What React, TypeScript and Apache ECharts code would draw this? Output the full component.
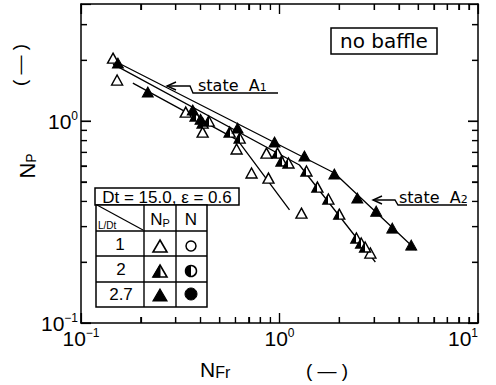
import React, { useEffect, useRef } from 'react';
import * as echarts from 'echarts';

// ---- axis setup ----
const X_MIN = 0.1;
const X_MAX = 10;
const Y_MIN = 0.1;
const Y_MAX = 3.8;
const xMajorTicks = [0.1, 1, 10];
const yMajorTicks = [0.1, 1];
const xMinorTicks = [0.2, 0.3, 0.4, 0.5, 0.6, 0.7, 0.8, 0.9, 2, 3, 4, 5, 6, 7, 8, 9];
const yMinorTicks = [0.2, 0.3, 0.4, 0.5, 0.6, 0.7, 0.8, 0.9, 2, 3];

// ---- data: [N_Fr, N_P] ----
// L/Dt = 1 (open triangles)
const openPoints: number[][] = [
  [0.145, 2.05], [0.152, 1.596], [0.337, 1.108], [0.41, 0.882], [0.608, 0.727],
  [0.723, 0.553], [0.86, 0.694], [0.88, 0.522], [1.29, 0.35], [2.87, 0.222],
];
// L/Dt = 2 (half-filled triangles)
const halfPoints: number[][] = [
  [0.378, 1.059], [0.41, 0.977], [0.44, 1.0], [0.561, 0.882], [0.63, 0.824],
  [0.977, 0.694], [1.024, 0.634], [1.11, 0.62], [1.367, 0.566], [1.552, 0.471],
  [1.763, 0.411], [2.0, 0.346], [2.44, 0.2635], [2.58, 0.249], [2.7, 0.238],
];
// L/Dt = 2.7 (filled triangles)
const filledPoints: number[][] = [
  [0.1535, 1.937], [0.217, 1.392], [0.3655, 1.134], [0.4, 1.02], [0.615, 0.923],
  [0.944, 0.787], [1.335, 0.671], [1.889, 0.547], [2.466, 0.416], [3.07, 0.358],
  [3.7, 0.295], [4.61, 0.243],
];
// correlation lines
const lineA: number[][] = [[0.145, 2.0], [1.89, 0.553], [4.88, 0.23]];
const lineB: number[][] = [[0.145, 1.915], [1.26, 0.606], [3.04, 0.2005]];
const lineC: number[][] = [[0.1825, 1.542], [0.615, 0.805], [1.123, 0.363]];

const NUM_FONT = 'Liberation Sans';
const TXT_FONT = 'DejaVu Sans';
const BLACK = '#000';

// grid geometry (pixels)
const GRID = { left: 81, right: 18, top: 4, bottom: 62 };
const W = 496;
const H = 385;

function expLabel(v: number) {
  const e = Math.round(Math.log10(v));
  const s = e < 0 ? '\u2212' + -e : String(e);
  return `{b|10}{s|${s}}`;
}

const labelRich = {
  b: { fontSize: 21, fontFamily: NUM_FONT, color: BLACK, lineHeight: 22, verticalAlign: 'bottom' },
  s: { fontSize: 12, fontFamily: NUM_FONT, color: BLACK, lineHeight: 12, verticalAlign: 'top' },
};

function tri(cx: number, cy: number, w = 14, h = 12) {
  return [[cx, cy - h / 2], [cx + w / 2, cy + h / 2], [cx - w / 2, cy + h / 2]];
}

function buildGraphic() {
  const g: any[] = [];
  const line = (x1: number, y1: number, x2: number, y2: number, w = 1.4) =>
    g.push({ type: 'line', z: 100, shape: { x1, y1, x2, y2 }, style: { stroke: BLACK, lineWidth: w } });
  const text = (x: number, y: number, t: string, size: number, family: string, align = 'center') =>
    g.push({
      type: 'text', z: 101, x, y,
      style: { text: t, fontSize: size, fontFamily: family, fill: BLACK, align, verticalAlign: 'middle', textAlign: align, textVerticalAlign: 'middle' },
    });
  const subRich = (big: number, small: number, family: string, bigLH: number, smallLH: number) => ({
    n: { fontSize: big, fontFamily: family, color: BLACK, lineHeight: bigLH, verticalAlign: 'bottom' },
    s: { fontSize: small, fontFamily: family, color: BLACK, lineHeight: smallLH, verticalAlign: 'bottom' },
  });

  // no baffle box
  g.push({ type: 'rect', z: 100, shape: { x: 331, y: 28, width: 106, height: 26 }, style: { fill: '#fff', stroke: BLACK, lineWidth: 1.5 } });
  text(384, 41, 'no baffle', 20, TXT_FONT);

  // state A1 annotation
  g.push({ type: 'polyline', z: 100, shape: { points: [[167, 86], [190, 86], [193, 93], [278, 93]] }, style: { stroke: BLACK, lineWidth: 1.4, fill: null } });
  g.push({ type: 'polyline', z: 100, shape: { points: [[176, 82], [167, 86], [176, 90]] }, style: { stroke: BLACK, lineWidth: 1.4, fill: null } });
  g.push({
    type: 'text', z: 101, x: 198, y: 84,
    style: {
      text: '{n|state  A}{s|1}', align: 'left', verticalAlign: 'middle', textAlign: 'left', textVerticalAlign: 'middle',
      rich: subRich(16, 11, TXT_FONT, 18, 14),
    },
  });

  // state A2 annotation
  g.push({ type: 'polyline', z: 100, shape: { points: [[373, 200], [395, 200], [398, 205], [467, 205]] }, style: { stroke: BLACK, lineWidth: 1.4, fill: null } });
  g.push({ type: 'polyline', z: 100, shape: { points: [[382, 196], [373, 200], [382, 204]] }, style: { stroke: BLACK, lineWidth: 1.4, fill: null } });
  g.push({
    type: 'text', z: 101, x: 399, y: 196,
    style: {
      text: '{n|state  A}{s|2}', align: 'left', verticalAlign: 'middle', textAlign: 'left', textVerticalAlign: 'middle',
      rich: subRich(16, 11, TXT_FONT, 18, 14),
    },
  });

  // legend table
  g.push({ type: 'rect', z: 100, shape: { x: 95, y: 188, width: 144, height: 17 }, style: { fill: '#fff', stroke: BLACK, lineWidth: 1.5 } });
  text(167, 197, 'Dt = 15.0, \u03b5 = 0.6', 17, NUM_FONT);
  g.push({ type: 'rect', z: 100, shape: { x: 96, y: 205, width: 111, height: 102 }, style: { fill: '#fff', stroke: BLACK, lineWidth: 1.5 } });
  line(144, 205, 144, 307);
  line(176, 205, 176, 307);
  line(96, 231, 207, 231);
  line(96, 256, 207, 256);
  line(96, 282, 207, 282);
  line(97, 205, 143, 230, 1.2);
  text(98, 225, 'L/Dt', 10, NUM_FONT, 'left');
  g.push({
    type: 'text', z: 101, x: 160, y: 219,
    style: {
      text: '{n|N}{s|P}', align: 'center', verticalAlign: 'middle', textAlign: 'center', textVerticalAlign: 'middle',
      rich: subRich(17, 11, NUM_FONT, 18, 14),
    },
  });
  text(191, 219, 'N', 17, NUM_FONT);
  text(120, 244, '1', 17, NUM_FONT);
  text(121, 269, '2', 17, NUM_FONT);
  text(121, 294, '2.7', 17, NUM_FONT);
  // symbols
  g.push({ type: 'polygon', z: 101, shape: { points: tri(160, 246) }, style: { fill: '#fff', stroke: BLACK, lineWidth: 1.6 } });
  g.push({ type: 'polygon', z: 101, shape: { points: tri(160, 271) }, style: { fill: '#fff', stroke: BLACK, lineWidth: 1.6 } });
  g.push({ type: 'polygon', z: 102, shape: { points: [[160, 265], [160, 277], [153, 277]] }, style: { fill: BLACK, stroke: BLACK, lineWidth: 1 } });
  g.push({ type: 'polygon', z: 101, shape: { points: tri(160, 295) }, style: { fill: BLACK, stroke: BLACK, lineWidth: 1.2 } });
  g.push({ type: 'circle', z: 101, shape: { cx: 191, cy: 246, r: 5 }, style: { fill: '#fff', stroke: BLACK, lineWidth: 1.5 } });
  g.push({ type: 'circle', z: 101, shape: { cx: 191, cy: 271, r: 5.5 }, style: { fill: '#fff', stroke: BLACK, lineWidth: 1.5 } });
  g.push({ type: 'sector', z: 102, shape: { cx: 191, cy: 271, r: 5.5, r0: 0, startAngle: Math.PI / 2, endAngle: (3 * Math.PI) / 2 }, style: { fill: BLACK } });
  g.push({ type: 'circle', z: 101, shape: { cx: 191, cy: 294, r: 6 }, style: { fill: BLACK, stroke: BLACK, lineWidth: 1 } });

  // axis titles
  g.push({
    type: 'text', z: 101, x: 200, y: 369,
    style: {
      text: '{n|N}{s|Fr}', align: 'left', verticalAlign: 'middle', textAlign: 'left', textVerticalAlign: 'middle',
      rich: subRich(21, 16, NUM_FONT, 22, 19),
    },
  });
  text(327, 370, '( \u2014 )', 19, NUM_FONT);
  g.push({
    type: 'text', z: 101, x: 27, y: 166, rotation: Math.PI / 2,
    style: {
      text: '{n|N}{s|P}', align: 'center', verticalAlign: 'middle', textAlign: 'center', textVerticalAlign: 'middle',
      rich: subRich(22, 14, NUM_FONT, 22, 19),
    },
  });
  g.push({
    type: 'text', z: 101, x: 23, y: 65, rotation: -Math.PI / 2,
    style: { text: '( \u2014 )', fontSize: 19, fontFamily: NUM_FONT, fill: BLACK, align: 'center', verticalAlign: 'middle', textAlign: 'center', textVerticalAlign: 'middle' },
  });
  return g;
}

// tick marks as short line series in data space (on the log axes)
function tickLineSeries(): any[] {
  const plotW = W - GRID.left - GRID.right;
  const plotH = H - GRID.top - GRID.bottom;
  const decX = Math.log10(X_MAX / X_MIN) / plotW; // decades per pixel
  const decY = Math.log10(Y_MAX / Y_MIN) / plotH;
  const kx = (len: number) => Math.pow(10, len * decX);
  const ky = (len: number) => Math.pow(10, len * decY);
  const out: any[] = [];
  const seg = (a: number[], b: number[]) =>
    out.push({
      type: 'line', data: [a, b], symbol: 'none', silent: true, z: 6, clip: false,
      lineStyle: { color: BLACK, width: 1.2 },
    });
  const addX = (vals: number[], len: number) =>
    vals.forEach((v) => {
      seg([v, Y_MIN], [v, Y_MIN * ky(len)]);
      seg([v, Y_MAX], [v, Y_MAX / ky(len)]);
    });
  const addY = (vals: number[], len: number) =>
    vals.forEach((v) => {
      seg([X_MIN, v], [X_MIN * kx(len), v]);
      seg([X_MAX, v], [X_MAX / kx(len), v]);
    });
  addX(xMajorTicks, 10);
  addX(xMinorTicks, 6);
  addY(yMajorTicks, 10);
  addY(yMinorTicks, 6);
  return out;
}

const halfFill = new echarts.graphic.LinearGradient(0, 0, 1, 0, [
  { offset: 0, color: BLACK },
  { offset: 0.5, color: BLACK },
  { offset: 0.5, color: '#fff' },
  { offset: 1, color: '#fff' },
]);

function makeAxis(extra: any) {
  return {
    type: 'log',
    axisLine: { show: true, lineStyle: { color: BLACK, width: 1.5 } },
    axisTick: { show: true, inside: true, length: 10, lineStyle: { color: BLACK, width: 1.2 } },
    minorTick: { show: true, splitNumber: 9, length: 6, lineStyle: { color: BLACK, width: 1.2 } },
    splitLine: { show: false },
    minorSplitLine: { show: false },
    ...extra,
  };
}

function buildOption(): any {
  const lineSeries = (data: number[][]) => ({
    type: 'line', data, symbol: 'none', z: 2,
    lineStyle: { color: BLACK, width: 1.3 },
  });
  return {
    animation: false,
    grid: { ...GRID },
    xAxis: [
      makeAxis({
        min: X_MIN, max: X_MAX, position: 'bottom',
        axisLabel: { show: true, margin: 4, formatter: expLabel, rich: labelRich, alignMaxLabel: 'right' },
      }),
      makeAxis({ min: X_MIN, max: X_MAX, position: 'top', axisLabel: { show: false } }),
    ],
    yAxis: [
      makeAxis({
        min: Y_MIN, max: Y_MAX, position: 'left',
        axisLabel: { show: true, margin: 3, formatter: expLabel, rich: labelRich, showMaxLabel: false },
      }),
      makeAxis({ min: Y_MIN, max: Y_MAX, position: 'right', axisLabel: { show: false } }),
    ],
    series: [
      lineSeries(lineA),
      lineSeries(lineB),
      lineSeries(lineC),
      {
        type: 'scatter', name: 'L/Dt=1', data: openPoints, symbol: 'triangle', symbolSize: [11, 10], z: 3,
        itemStyle: { color: '#fff', borderColor: BLACK, borderWidth: 1.4, opacity: 1 },
      },
      {
        type: 'scatter', name: 'L/Dt=2', data: halfPoints, symbol: 'triangle', symbolSize: [11, 10], z: 4,
        itemStyle: { color: halfFill, borderColor: BLACK, borderWidth: 1.4, opacity: 1 },
      },
      {
        type: 'scatter', name: 'L/Dt=2.7', data: filledPoints, symbol: 'triangle', symbolSize: [11, 10], z: 5,
        itemStyle: { color: BLACK, borderColor: BLACK, borderWidth: 1, opacity: 1 },
      },
      ...tickLineSeries(),
    ],
    graphic: buildGraphic(),
  };
}

export default function App() {
  const ref = useRef<HTMLDivElement>(null);
  useEffect(() => {
    document.body.style.margin = '0';
    const chart = echarts.init(ref.current!, null, { renderer: 'svg' });
    chart.setOption(buildOption());
    return () => chart.dispose();
  }, []);
  return (
    <div
      ref={ref}
      style={{ position: 'absolute', left: 0, top: 0, width: W, height: H }}
    />
  );
}
